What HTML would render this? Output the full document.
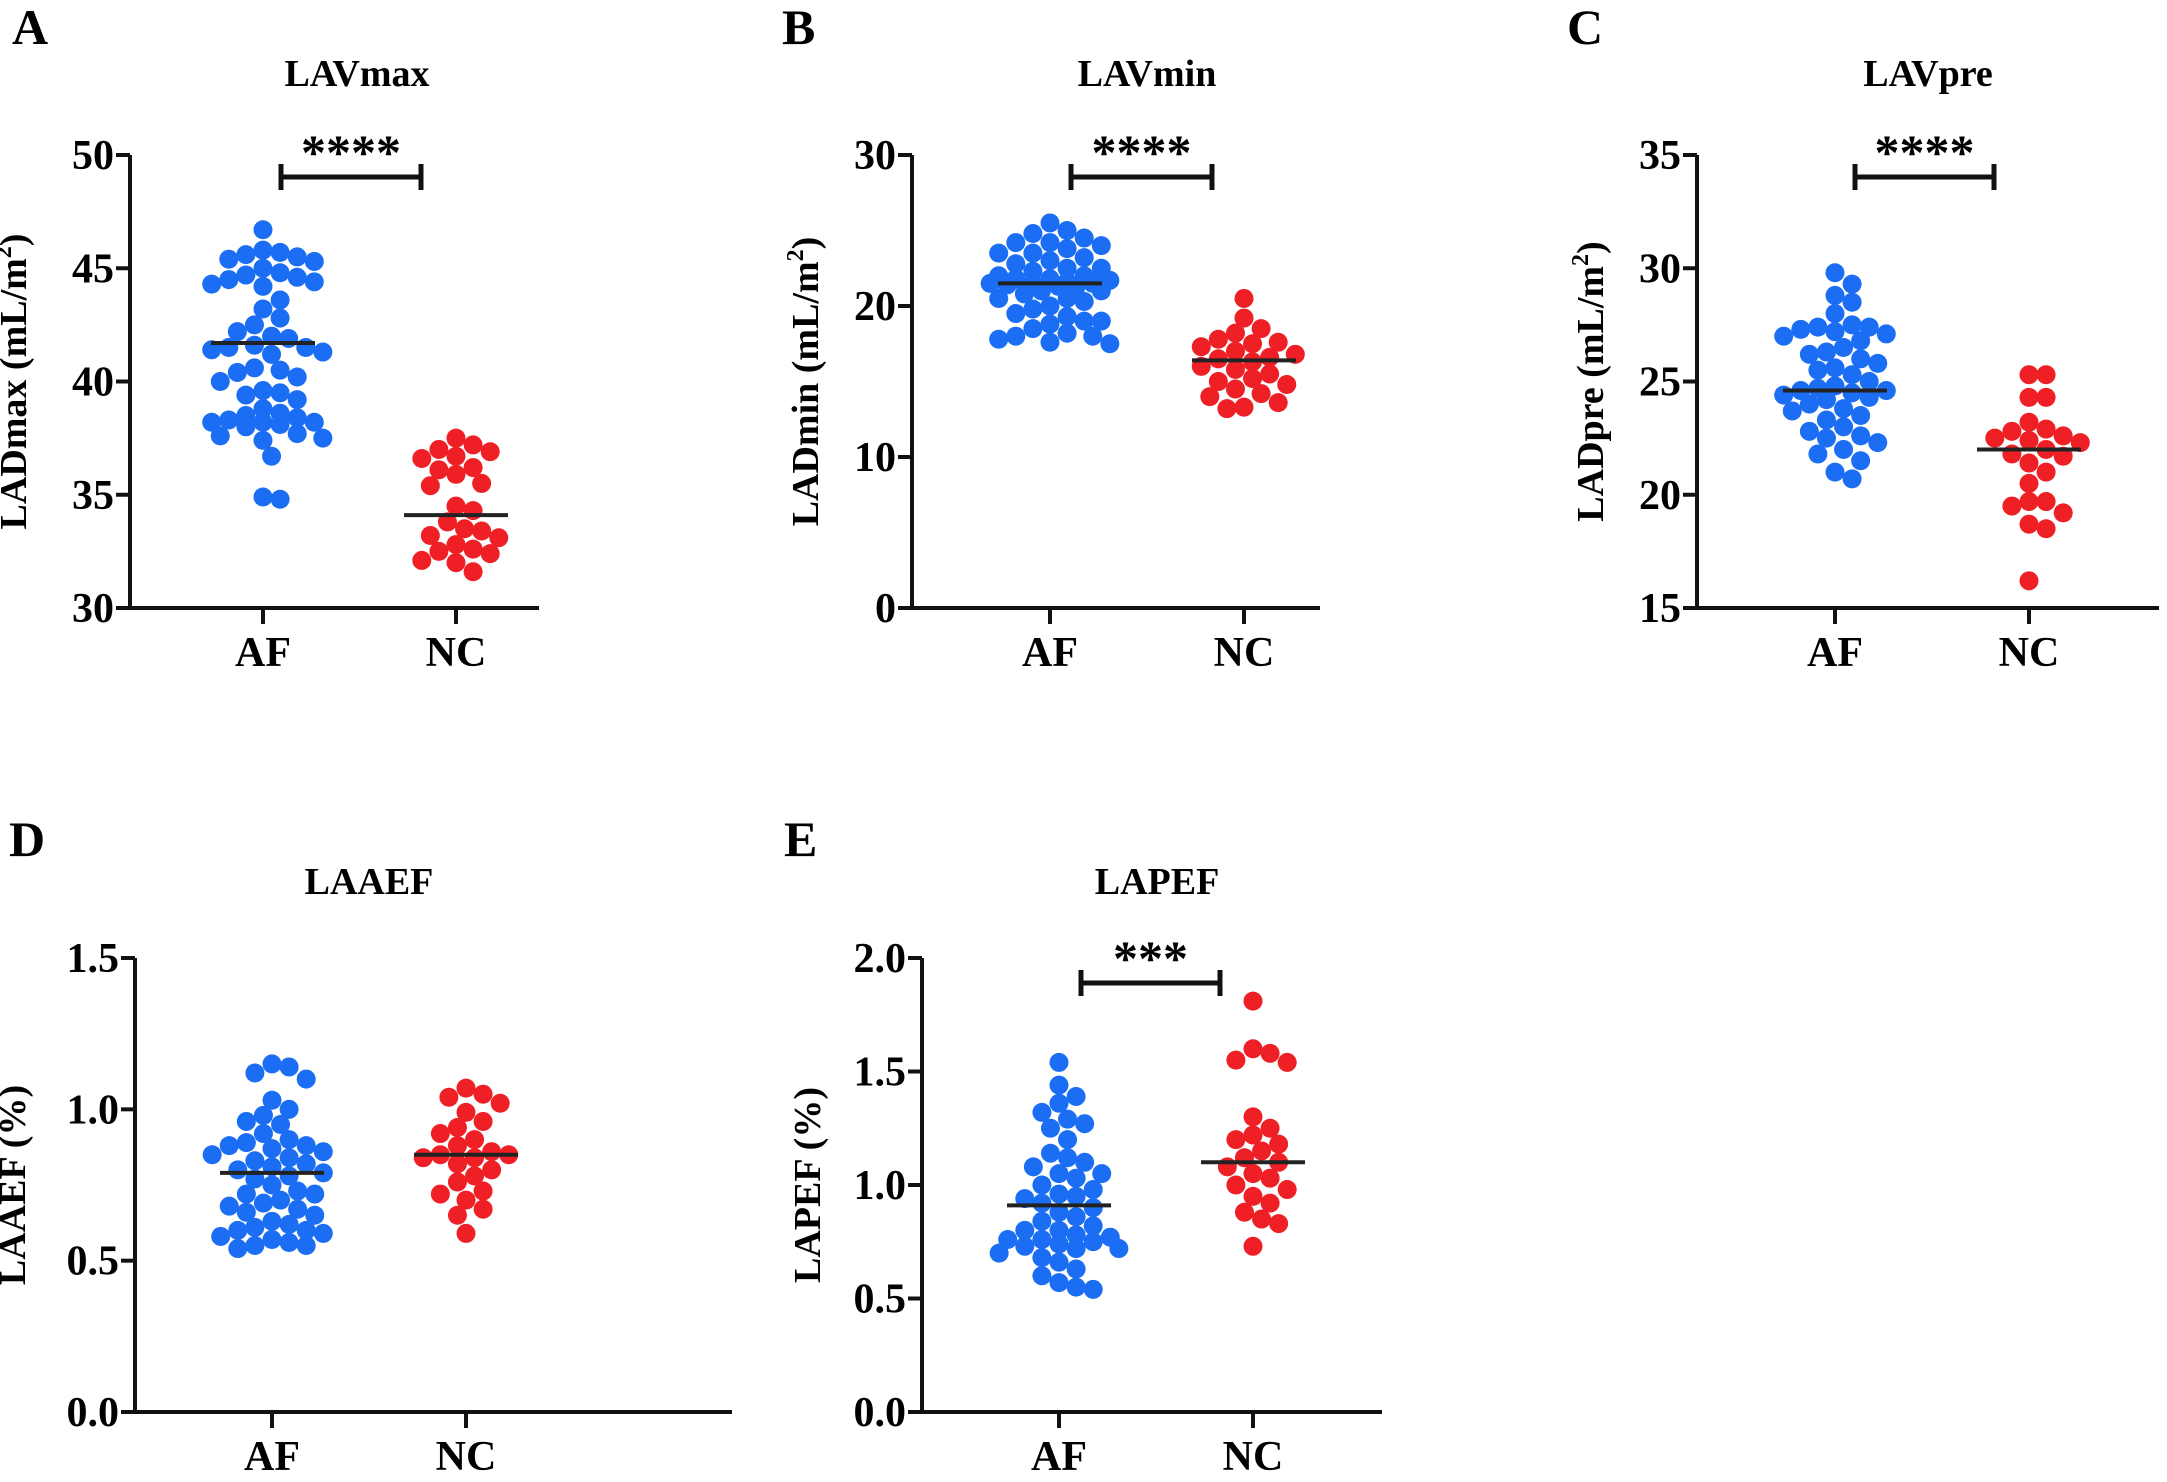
<!DOCTYPE html>
<html><head><meta charset="utf-8"><style>
html,body{margin:0;padding:0;background:#fff;}
svg{display:block;font-family:"Liberation Serif",serif;font-weight:bold;}
</style></head><body>
<svg id="fig" width="2167" height="1482" viewBox="0 0 2167 1482" xmlns="http://www.w3.org/2000/svg"></svg>
<script>
const groups = ["AF","NC"];
const afA = [46.7,45.8,45.7,45.6,45.5,45.4,45.3,45.0,44.8,44.7,44.6,44.5,44.4,44.3,44.2,43.6,43.2,42.8,42.5,42.2,42.0,41.9,41.6,41.5,41.5,41.4,41.3,41.2,40.6,40.5,40.4,40.2,40.0,39.6,39.5,39.4,39.2,38.8,38.6,38.5,38.4,38.3,38.2,38.2,38.2,38.1,38.0,37.7,37.6,37.5,37.4,36.7,34.8,34.9];
const ncA = [37.5,37.2,37.0,36.9,36.7,36.6,36.2,36.1,35.9,35.5,35.4,34.5,34.3,33.8,33.5,33.4,33.2,33.1,32.8,32.6,32.5,32.4,32.1,32.0,31.6];
const meanA = [41.7,34.1];
const ticksA = [30,35,40,45,50];
const afB = [25.5,25.0,24.8,24.5,24.2,24.0,23.8,23.5,23.2,23.0,22.8,22.5,22.3,22.0,21.8,21.7,21.6,21.5,21.5,21.5,21.4,21.3,21.2,21.0,20.8,20.5,20.3,20.0,19.8,19.5,19.3,19.0,18.8,18.5,18.2,18.0,17.8,17.6,17.5,22.0,21.0,20.5,22.5,23.5,24.2,19.0,18.0,21.8];
const ncB = [20.5,19.2,18.5,18.2,17.8,17.5,17.3,17.0,16.8,16.5,16.3,16.0,15.8,15.5,15.2,15.0,14.8,14.5,14.2,14.0,13.6,13.3,13.2,16.6,17.6];
const meanB = [21.5,16.4];
const ticksB = [0,10,20,30];
const afC = [29.8,29.3,28.8,28.5,28.0,27.5,27.4,27.3,27.2,27.0,26.8,26.5,26.3,26.0,25.8,25.5,25.3,25.0,24.8,24.7,24.6,24.5,24.4,24.3,24.2,24.0,23.8,23.5,23.3,23.0,22.8,22.5,22.3,22.0,21.8,21.5,21.0,20.7,27.4,26.2,24.6,25.6,23.7,22.6,27.1];
const ncC = [25.3,25.3,24.3,24.3,23.2,22.8,22.6,22.5,22.4,22.3,22.0,21.8,21.7,21.4,21.0,20.5,19.7,19.7,19.5,19.2,18.7,18.5,16.2,22.9];
const meanC = [24.6,22.0];
const ticksC = [15,20,25,30,35];
const afD = [1.15,1.14,1.12,1.10,1.03,1.00,0.98,0.95,0.92,0.90,0.89,0.88,0.87,0.86,0.85,0.84,0.83,0.82,0.81,0.80,0.79,0.78,0.77,0.75,0.73,0.72,0.70,0.69,0.68,0.67,0.66,0.65,0.63,0.62,0.61,0.60,0.59,0.58,0.57,0.56,0.55,0.55,0.54,0.88,0.72,0.60,0.96];
const ncD = [1.07,1.05,1.04,1.02,0.99,0.96,0.94,0.92,0.90,0.88,0.86,0.85,0.85,0.84,0.84,0.82,0.80,0.78,0.76,0.73,0.72,0.70,0.67,0.65,0.59];
const meanD = [0.79,0.85];
const ticksD = ["0.0","0.5","1.0","1.5"];
const afE = [1.54,1.44,1.39,1.36,1.32,1.29,1.27,1.25,1.20,1.14,1.12,1.10,1.08,1.05,1.03,1.00,0.98,0.96,0.94,0.92,0.90,0.88,0.86,0.84,0.82,0.80,0.78,0.77,0.76,0.75,0.74,0.73,0.72,0.70,0.68,0.66,0.63,0.60,0.57,0.55,0.54,0.76,0.95,1.05,0.80,0.72];
const ncE = [1.81,1.60,1.58,1.54,1.55,1.30,1.25,1.22,1.20,1.18,1.15,1.12,1.10,1.08,1.05,1.03,1.00,0.98,0.95,0.92,0.88,0.85,0.83,0.73];
const meanE = [0.91,1.10];
const ticksE = ["0.0","0.5","1.0","1.5","2.0"];

const NS="http://www.w3.org/2000/svg";
const svg=document.getElementById('fig');
function mk(tag,attrs,parent){const e=document.createElementNS(NS,tag);for(const k in attrs)e.setAttribute(k,attrs[k]);(parent||svg).appendChild(e);return e;}

function panel(cfg){
  const g=mk('g',{});
  
  
  const ticks=cfg.ticks.map(Number);
  const lo=ticks[0],hi=ticks[ticks.length-1];
  const y=v=>cfg.bot-(v-lo)/(hi-lo)*(cfg.bot-cfg.top);
  const xc=[cfg.ax+cfg.afOff,cfg.ax+cfg.ncOff];
  const L=mk('text',{x:cfg.ax-cfg.letterDx,y:cfg.letterY,'font-size':50},g);L.textContent=cfg.letter;
  
  
  const T=mk('text',{x:cfg.titleX,y:cfg.titleY,'font-size':38,'text-anchor':'middle'},g);T.textContent=cfg.title;
  
  
  const ya=mk('line',{x1:cfg.ax,y1:cfg.top,x2:cfg.ax,y2:cfg.bot+2,stroke:'#111','stroke-width':4},g);
  
  
  const xa=mk('line',{x1:cfg.ax-14,y1:cfg.bot,x2:cfg.xend,y2:cfg.bot,stroke:'#111','stroke-width':4},g);
  
  
  cfg.ticks.forEach(t=>{
    const yy=y(Number(t));
    mk('line',{x1:cfg.ax-14,y1:yy,x2:cfg.ax,y2:yy,stroke:'#111','stroke-width':4},g);
    const tl=mk('text',{x:cfg.ax-16,y:yy+14,'font-size':42,'text-anchor':'end'},g);tl.textContent=t;
    
    
  });
  groups.forEach((gn,i)=>{
    mk('line',{x1:xc[i],y1:cfg.bot,x2:xc[i],y2:cfg.bot+16,stroke:'#111','stroke-width':4},g);
    const xl=mk('text',{x:xc[i],y:cfg.bot+58,'font-size':42,'text-anchor':'middle'},g);xl.textContent=gn;
    
    
  });
  const yt=mk('text',{transform:`translate(${cfg.ax-cfg.ytDx},${(cfg.top+cfg.bot)/2}) rotate(-90)`,'font-size':38,'text-anchor':'middle'},g);
  yt.innerHTML=cfg.ytitle;
  
  
  const r=9.5;
  [cfg.af,cfg.nc].forEach((vals,i)=>{
    const col=i===0?'#1b6ef3':'#ee2026';
    const placed=[];
    const maxOff=i===0?62:58;
    vals.slice().sort((a,b)=>b-a).forEach(v=>{
      const py=y(v);let off=0,best=-1;
      for(let k=0;k<40;k++){
        const cand=(k%2?1:-1)*Math.ceil(k/2)*r*0.9;
        if(Math.abs(cand)>maxOff)break;
        const dmin=placed.reduce((m,p)=>Math.min(m,Math.hypot(p[0]-cand,p[1]-py)),1e9);
        if(dmin>=2*r*0.85){off=cand;best=-2;break;}
        if(dmin>best&&best!==-2){best=dmin;off=cand;}
      }
      placed.push([off,py]);
      const c=mk('circle',{cx:xc[i]+off,cy:py,r:r,fill:col},g);
      
      
    });
    const m=mk('line',{x1:xc[i]-52,x2:xc[i]+52,y1:y(cfg.mean[i]),y2:y(cfg.mean[i]),stroke:'#222','stroke-width':4},g);
    
    
  });
  if(cfg.stars){
    const b=mk('path',{d:`M${cfg.bx1},${cfg.by-13}V${cfg.by+13}M${cfg.bx1},${cfg.by}H${cfg.bx2}M${cfg.bx2},${cfg.by-13}V${cfg.by+13}`,stroke:'#111','stroke-width':5,fill:'none'},g);
    
    
    const s=mk('text',{x:(cfg.bx1+cfg.bx2)/2,y:cfg.by-8,'font-size':50,'text-anchor':'middle'},g);s.textContent=cfg.stars;
    
    
  }
}
const unit='(mL/m<tspan font-size="24" dy="-15">2</tspan><tspan dy="15">)</tspan>';
const r1={top:155,bot:608,afOff:133,ncOff:326,letterDx:118,letterY:44,titleY:86,ytDx:104,by:177};
panel(Object.assign({},r1,{letter:'A',title:'LAVmax',ax:130,xend:539,titleX:357,ticks:ticksA,af:afA,nc:ncA,mean:meanA,ytitle:'LADmax '+unit,stars:'****',bx1:281,bx2:421}));
panel(Object.assign({},r1,{letter:'B',title:'LAVmin',ax:912,xend:1320,titleX:1147,ticks:ticksB,af:afB,nc:ncB,mean:meanB,ytitle:'LADmin '+unit,stars:'****',bx1:1071,bx2:1212,afOff:138,ncOff:332,ytDx:94,letterDx:130}));
panel(Object.assign({},r1,{letter:'C',title:'LAVpre',ax:1697,xend:2159,titleX:1928,ticks:ticksC,af:afC,nc:ncC,mean:meanC,ytitle:'LADpre '+unit,stars:'****',bx1:1855,bx2:1994,afOff:138,ncOff:332,ytDx:94,letterDx:130}));
const r2={top:958,bot:1412,afOff:137,ncOff:331,letterY:856,titleY:894,ytDx:110};
panel(Object.assign({},r2,{letter:'D',title:'LAAEF',ax:135,xend:732,titleX:369,ticks:ticksD,af:afD,nc:ncD,mean:meanD,ytitle:'LAAEF (%)',letterDx:126}));
panel(Object.assign({},r2,{letter:'E',title:'LAPEF',ax:922,xend:1382,titleX:1157,ticks:ticksE,af:afE,nc:ncE,mean:meanE,ytitle:'LAPEF (%)',letterDx:138,ytDx:102,stars:'***',bx1:1081,bx2:1220,by:983}));
</script>
</body></html>
